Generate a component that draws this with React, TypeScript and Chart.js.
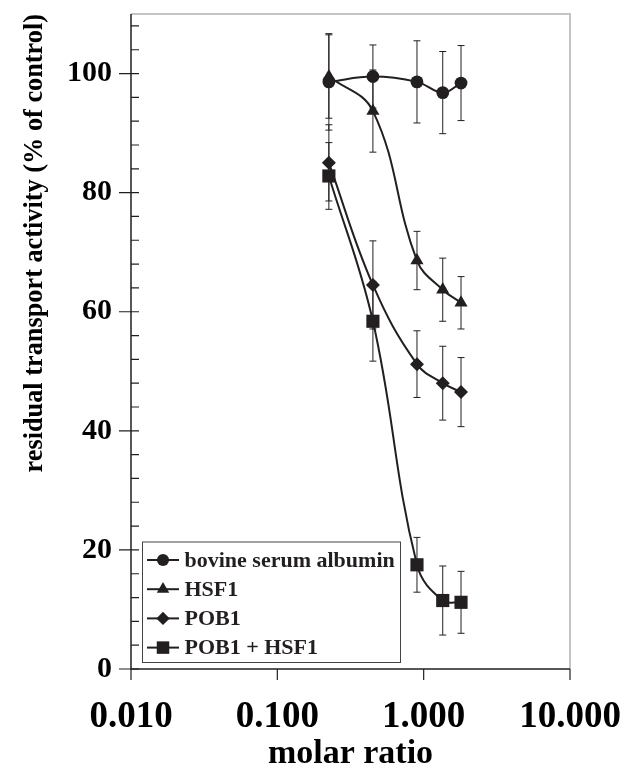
import React, { useEffect, useRef } from 'react';
import { Chart, registerables } from 'chart.js';

Chart.register(...registerables);

// ---- data ----
const molarRatio = [0.225, 0.45, 0.9, 1.35, 1.8];
const seriesNames = ['bovine serum albumin', 'HSF1', 'POB1', 'POB1 + HSF1'];
const bsaValues = [98.6, 99.5, 98.6, 96.8, 98.4];
const bsaErrors = [8.1, 5.3, 6.9, 6.9, 6.3];
const hsf1Values = [99.5, 93.7, 68.6, 63.7, 61.5];
const hsf1Errors = [7.0, 6.9, 4.9, 5.3, 4.4];
const pob1Values = [85.0, 64.5, 51.2, 48.0, 46.5];
const pob1Errors = [6.4, 7.4, 5.6, 6.2, 5.8];
const pobHsfValues = [82.8, 58.4, 17.5, 11.5, 11.2];
const pobHsfErrors = [5.6, 6.7, 4.6, 5.8, 5.2];
const xTickValues = [0.01, 0.1, 1, 10];
const yTickValues = [0, 20, 40, 60, 80, 100];
const yMinorStep = 4;

const INK = '#231f20';
const FONT = "'Liberation Serif', 'Times New Roman', serif";
const pointStyles = ['circle', 'triangle', 'rectRot', 'rect'];
const pointRadii = [6.4, 7.6, 7, 9.3];
const errorSets = [bsaErrors, hsf1Errors, pob1Errors, pobHsfErrors];
const valueSets = [bsaValues, hsf1Values, pob1Values, pobHsfValues];

function drawMarker(ctx: CanvasRenderingContext2D, style: string, x: number, y: number, r: number) {
  ctx.beginPath();
  if (style === 'circle') {
    ctx.arc(x, y, r, 0, Math.PI * 2);
  } else if (style === 'triangle') {
    ctx.moveTo(x, y - r);
    ctx.lineTo(x + r * Math.sin(Math.PI * 2 / 3), y - r * Math.cos(Math.PI * 2 / 3));
    ctx.lineTo(x - r * Math.sin(Math.PI * 2 / 3), y - r * Math.cos(Math.PI * 2 / 3));
  } else if (style === 'rectRot') {
    ctx.moveTo(x, y - r);
    ctx.lineTo(x + r, y);
    ctx.lineTo(x, y + r);
    ctx.lineTo(x - r, y);
  } else {
    const s = Math.SQRT1_2 * r;
    ctx.rect(x - s, y - s, 2 * s, 2 * s);
  }
  ctx.closePath();
  ctx.fill();
}

const framePlugin = {
  id: 'frame',
  beforeDatasetsDraw(chart: any) {
    const { ctx, chartArea: a, scales } = chart;
    const ys = scales.y;
    const xs = scales.x;
    ctx.save();
    // top & right gray frame
    ctx.strokeStyle = '#c4c4c4';
    ctx.lineWidth = 2;
    ctx.beginPath();
    ctx.moveTo(a.left, a.top);
    ctx.lineTo(a.right, a.top);
    ctx.lineTo(a.right, a.bottom);
    ctx.stroke();
    // axes
    ctx.strokeStyle = INK;
    ctx.lineWidth = 1.5;
    ctx.beginPath();
    ctx.moveTo(a.left, a.top);
    ctx.lineTo(a.left, a.bottom);
    ctx.lineTo(a.right, a.bottom);
    ctx.stroke();
    // y ticks
    ctx.lineWidth = 1.2;
    ctx.beginPath();
    for (let v = 0; v <= ys.max; v += yMinorStep) {
      const py = ys.getPixelForValue(v);
      ctx.moveTo(a.left, py);
      ctx.lineTo(a.left + 8, py);
    }
    for (const v of yTickValues) {
      const py = ys.getPixelForValue(v);
      ctx.moveTo(a.left - 12, py);
      ctx.lineTo(a.left + 8, py);
    }
    // x ticks
    for (const v of xTickValues) {
      const px = xs.getPixelForValue(v);
      ctx.moveTo(px, a.bottom);
      ctx.lineTo(px, a.bottom + 11);
    }
    ctx.stroke();
    // error bars
    ctx.strokeStyle = INK;
    ctx.lineWidth = 1;
    chart.data.datasets.forEach((ds: any, i: number) => {
      const errs = errorSets[i];
      ds.data.forEach((p: any, j: number) => {
        const px = xs.getPixelForValue(p.x);
        const top = ys.getPixelForValue(p.y + errs[j]);
        const bot = ys.getPixelForValue(p.y - errs[j]);
        ctx.beginPath();
        ctx.moveTo(px, top);
        ctx.lineTo(px, bot);
        ctx.moveTo(px - 3.5, top);
        ctx.lineTo(px + 3.5, top);
        ctx.moveTo(px - 3.5, bot);
        ctx.lineTo(px + 3.5, bot);
        ctx.stroke();
      });
    });
    ctx.restore();
  },
  afterDraw(chart: any) {
    const { ctx, chartArea: a } = chart;
    ctx.save();
    const left = a.left + 11;
    const top = a.bottom - 127.5;
    const w = 258;
    const h = 120.5;
    ctx.fillStyle = '#ffffff';
    ctx.fillRect(left, top, w, h);
    ctx.strokeStyle = '#444444';
    ctx.lineWidth = 1;
    ctx.strokeRect(left + 0.5, top + 0.5, w, h);
    ctx.font = `bold 22px ${FONT}`;
    ctx.textBaseline = 'middle';
    ctx.textAlign = 'left';
    seriesNames.forEach((name, i) => {
      const cy = top + 18.5 + i * 29.2;
      ctx.strokeStyle = INK;
      ctx.lineWidth = 2;
      ctx.beginPath();
      ctx.moveTo(left + 5, cy);
      ctx.lineTo(left + 37, cy);
      ctx.stroke();
      ctx.fillStyle = INK;
      drawMarker(ctx, pointStyles[i], left + 21, cy, pointRadii[i] * 0.95);
      ctx.fillText(name, left + 42.5, cy + 1);
    });
    ctx.restore();
  },
};

export default function App() {
  const canvasRef = useRef<HTMLCanvasElement | null>(null);

  useEffect(() => {
    const canvas = canvasRef.current;
    if (!canvas) return;
    const datasets = seriesNames.map((name, i) => ({
      label: name,
      data: molarRatio.map((x, j) => ({ x, y: valueSets[i][j] })),
      borderColor: INK,
      backgroundColor: INK,
      borderWidth: 2,
      tension: 0.4,
      pointStyle: pointStyles[i],
      pointRadius: pointRadii[i],
      pointBackgroundColor: INK,
      pointBorderColor: INK,
      pointBorderWidth: 0,
      fill: false,
    }));

    const chart = new Chart(canvas, {
      type: 'line',
      data: { datasets },
      plugins: [framePlugin],
      options: {
        animation: false,
        responsive: false,
        devicePixelRatio: 1,
        layout: { padding: { left: 0, right: 50, top: 14, bottom: 0 } },
        plugins: { legend: { display: false }, tooltip: { enabled: false } },
        scales: {
          x: {
            type: 'logarithmic',
            min: 0.01,
            max: 10,
            grid: { display: false, drawTicks: false },
            border: { display: false },
            afterBuildTicks: (scale: any) => {
              scale.ticks = xTickValues.map((v) => ({ value: v }));
            },
            afterFit: (scale: any) => {
              scale.height = 106;
              scale.paddingLeft = 0;
              scale.paddingRight = 0;
              scale.paddingTop = 0;
              scale.paddingBottom = 0;
            },
            ticks: {
              color: '#000',
              font: { family: FONT, size: 37, weight: 'bold' },
              padding: 26,
              maxRotation: 0,
              autoSkip: false,
              callback: (v: any) => Number(v).toFixed(3),
            },
            title: {
              display: true,
              text: 'molar ratio',
              color: '#000',
              font: { family: FONT, size: 34, weight: 'bold' },
              padding: { top: 0, bottom: 0 },
            },
          },
          y: {
            type: 'linear',
            min: 0,
            max: 110,
            grid: { display: false, drawTicks: false },
            border: { display: false },
            afterBuildTicks: (scale: any) => {
              scale.ticks = yTickValues.map((v) => ({ value: v }));
            },
            afterFit: (scale: any) => {
              scale.width = 131;
              scale.paddingLeft = 0;
              scale.paddingRight = 0;
              scale.paddingTop = 0;
              scale.paddingBottom = 0;
            },
            ticks: {
              color: '#000',
              font: { family: FONT, size: 30, weight: 'bold' },
              padding: 19,
              callback: (v: any) => String(v),
            },
            title: {
              display: true,
              text: 'residual transport activity (% of control)',
              align: 'end',
              color: '#000',
              font: { family: FONT, size: 26.3, weight: 'bold' },
              padding: { top: 19, bottom: 0 },
            },
          },
        },
      } as any,
    });
    return () => chart.destroy();
  }, []);

  return (
    <div style={{ position: 'absolute', left: 0, top: 0, width: 620, height: 775, background: '#fff' }}>
      <canvas ref={canvasRef} width={620} height={775} style={{ display: 'block' }} />
    </div>
  );
}
